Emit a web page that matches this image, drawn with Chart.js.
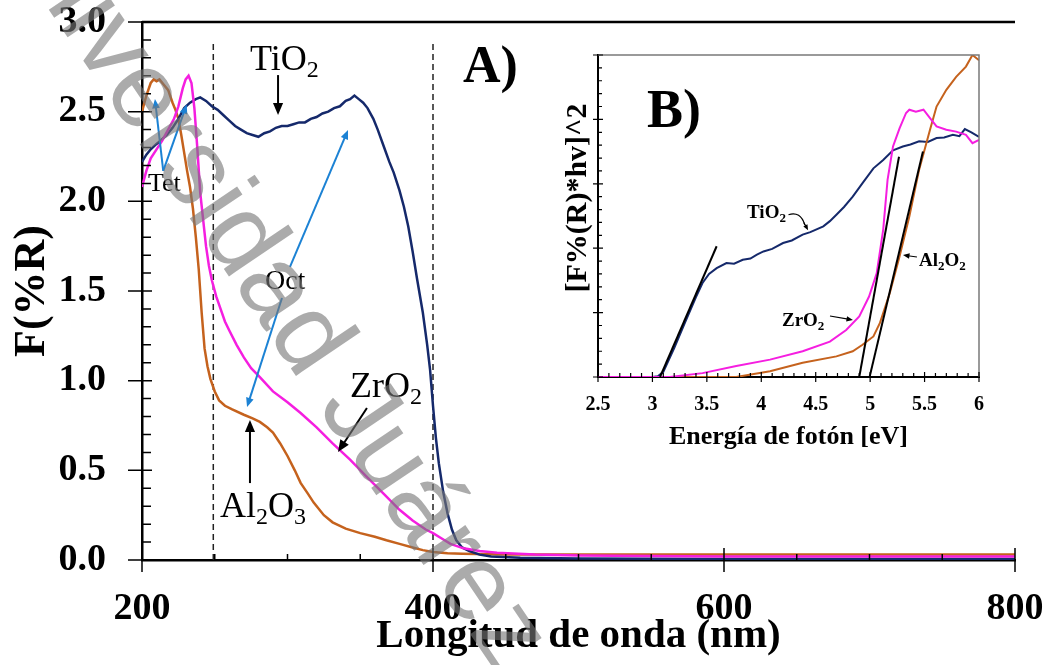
<!DOCTYPE html>
<html>
<head>
<meta charset="utf-8">
<script src="https://cdn.jsdelivr.net/npm/chart.js@4.4.0/dist/chart.umd.min.js"></script>
<style>
  html, body { margin: 0; padding: 0; background: #fff; }
  #wrap { position: relative; width: 1047px; height: 665px; overflow: hidden; }
  #main { position: absolute; left: 0; top: 0; }
  #inset { position: absolute; left: 540px; top: 30px; }
</style>
</head>
<body>
<div id="wrap">
  <canvas id="main" width="1047" height="665"></canvas>
  <canvas id="inset" width="470" height="430"></canvas>
</div>
<script>
// ---- panel A: F(%R) vs wavelength (nm) ----
const tio2Nm = [200, 203, 206, 210, 213, 217, 221, 225, 229, 233, 237, 240, 244, 248, 252, 256, 260, 264, 268, 272, 276, 280, 284, 288, 292, 296, 300, 304, 308, 312, 316, 320, 324, 328, 332, 336, 340, 343, 346, 349, 352, 355, 359, 362, 366, 370, 373, 377, 380, 383, 386, 389, 393, 396, 398, 400, 402, 404, 407, 410, 413, 416, 420, 425, 432, 440, 460, 500, 600, 800];
const tio2F = [2.22, 2.26, 2.29, 2.32, 2.34, 2.37, 2.41, 2.46, 2.52, 2.55, 2.57, 2.58, 2.56, 2.53, 2.51, 2.48, 2.45, 2.42, 2.40, 2.38, 2.37, 2.36, 2.38, 2.39, 2.41, 2.42, 2.42, 2.43, 2.44, 2.44, 2.46, 2.47, 2.49, 2.50, 2.52, 2.53, 2.56, 2.57, 2.59, 2.57, 2.55, 2.52, 2.46, 2.40, 2.31, 2.22, 2.16, 2.06, 1.97, 1.86, 1.72, 1.57, 1.38, 1.20, 1.06, 0.86, 0.68, 0.54, 0.38, 0.26, 0.17, 0.11, 0.07, 0.05, 0.03, 0.02, 0.012, 0.008, 0.006, 0.006];

const zro2Nm = [200, 203, 206, 210, 214, 218, 222, 225, 228, 230, 232, 234, 236, 238, 240, 242, 244, 246, 248, 251, 254, 257, 260, 265, 270, 275, 281, 290, 300, 309, 320, 331, 343, 355, 366, 377, 386, 395, 400, 406, 412, 421, 432, 444, 470, 500, 600, 800];
const zro2F = [2.08, 2.17, 2.24, 2.29, 2.34, 2.40, 2.46, 2.53, 2.63, 2.68, 2.70, 2.66, 2.52, 2.30, 2.05, 1.90, 1.75, 1.64, 1.56, 1.47, 1.40, 1.33, 1.28, 1.20, 1.13, 1.07, 1.02, 0.94, 0.88, 0.82, 0.74, 0.65, 0.56, 0.46, 0.37, 0.28, 0.22, 0.17, 0.15, 0.12, 0.09, 0.065, 0.05, 0.04, 0.03, 0.025, 0.02, 0.02];

const al2o3Nm = [200, 203, 206, 208, 210, 212, 215, 218, 221, 223, 225, 227, 229, 231, 233, 235, 237, 239, 241, 243, 245, 247, 250, 253, 257, 262, 270, 276, 281, 286, 290, 295, 300, 305, 309, 314, 318, 325, 331, 340, 350, 360, 368, 377, 386, 393, 400, 410, 420, 450, 600, 800];
const al2o3F = [2.50, 2.59, 2.66, 2.68, 2.67, 2.68, 2.65, 2.62, 2.55, 2.51, 2.46, 2.37, 2.27, 2.17, 2.08, 1.96, 1.80, 1.62, 1.38, 1.18, 1.08, 1.01, 0.94, 0.89, 0.86, 0.84, 0.81, 0.79, 0.77, 0.74, 0.71, 0.65, 0.58, 0.50, 0.43, 0.37, 0.32, 0.25, 0.21, 0.175, 0.15, 0.13, 0.11, 0.09, 0.07, 0.055, 0.045, 0.038, 0.035, 0.03, 0.03, 0.03];

const dashNm = [249, 400];          // dashed guides
const dashTop = 2.9;
const yTicksA = [0, 0.5, 1.0, 1.5, 2.0, 2.5, 3.0];
const xTicksA = [200, 400, 600, 800];

// ---- panel B: Tauc plot vs photon energy (eV) ----
const tio2Ev = [2.5, 3.0, 3.05, 3.1, 3.2, 3.3, 3.4, 3.46, 3.52, 3.59, 3.68, 3.75, 3.83, 3.9, 3.96, 4.02, 4.1, 4.2, 4.28, 4.38, 4.45, 4.57, 4.63, 4.69, 4.76, 4.84, 4.93, 5.03, 5.12, 5.21, 5.3, 5.37, 5.45, 5.53, 5.61, 5.68, 5.76, 5.82, 5.87, 5.93, 6.0];
const tio2Tauc = [0, 0, 0.01, 0.08, 0.45, 0.85, 1.24, 1.46, 1.60, 1.69, 1.77, 1.76, 1.82, 1.84, 1.90, 1.95, 1.99, 2.08, 2.12, 2.21, 2.25, 2.34, 2.42, 2.52, 2.64, 2.80, 3.01, 3.24, 3.37, 3.52, 3.58, 3.61, 3.66, 3.65, 3.71, 3.72, 3.76, 3.74, 3.85, 3.80, 3.73];

const zro2Ev = [2.5, 3.16, 3.46, 3.77, 4.08, 4.38, 4.63, 4.78, 4.90, 4.99, 5.06, 5.12, 5.16, 5.21, 5.27, 5.33, 5.36, 5.42, 5.49, 5.55, 5.61, 5.70, 5.79, 5.88, 5.94, 6.0];
const zro2Tauc = [0, 0, 0.06, 0.17, 0.27, 0.40, 0.55, 0.73, 0.94, 1.25, 1.61, 2.29, 3.06, 3.58, 3.86, 4.10, 4.15, 4.12, 4.15, 4.02, 3.89, 3.84, 3.81, 3.76, 3.63, 3.68];

const al2o3Ev = [2.5, 3.77, 4.08, 4.38, 4.69, 4.84, 4.93, 5.03, 5.09, 5.18, 5.27, 5.36, 5.45, 5.55, 5.61, 5.70, 5.79, 5.88, 5.94, 6.0];
const al2o3Tauc = [0, 0, 0.09, 0.22, 0.32, 0.40, 0.50, 0.63, 0.84, 1.30, 1.87, 2.49, 3.22, 3.84, 4.20, 4.46, 4.66, 4.82, 5.0, 4.92];

// tangent (band-gap) lines: [x0, x1], [y0, y1]
const tanTiO2Ev = [3.07, 3.59], tanTiO2Y = [0, 2.03];
const tanZrO2Ev = [4.90, 5.265], tanZrO2Y = [0, 3.42];
const tanAl2O3Ev = [4.995, 5.485], tanAl2O3Y = [0, 3.50];

const NAVY = '#15296b', MAGENTA = '#f51ee0', ORANGE = '#c5621d', BLUE = '#1c82d4';
const SERIF = '"Liberation Serif", "Times New Roman", serif';

const pts = (xs, ys) => xs.map((x, i) => ({ x: x, y: ys[i] }));

// keep label overhang from moving the plot area
const noPad = s => { s.paddingTop = 0; s.paddingBottom = 0; s.paddingLeft = 0; s.paddingRight = 0; };

function arrow(ctx, x1, y1, x2, y2, color, lw, head) {
  const a = Math.atan2(y2 - y1, x2 - x1);
  ctx.save();
  ctx.strokeStyle = color;
  ctx.fillStyle = color;
  ctx.lineWidth = lw;
  ctx.beginPath();
  ctx.moveTo(x1, y1);
  ctx.lineTo(x2 - Math.cos(a) * head * 0.7, y2 - Math.sin(a) * head * 0.7);
  ctx.stroke();
  ctx.beginPath();
  ctx.moveTo(x2, y2);
  ctx.lineTo(x2 - head * Math.cos(a - 0.4), y2 - head * Math.sin(a - 0.4));
  ctx.lineTo(x2 - head * Math.cos(a + 0.4), y2 - head * Math.sin(a + 0.4));
  ctx.closePath();
  ctx.fill();
  ctx.restore();
}

// text with subscripts: parts = [[text, isSub], ...]
function chem(ctx, x, y, parts, size, bold) {
  let cx = x;
  ctx.save();
  ctx.fillStyle = '#000';
  ctx.textBaseline = 'alphabetic';
  ctx.textAlign = 'left';
  for (const [t, sub] of parts) {
    const s = sub ? Math.round(size * 0.68) : size;
    ctx.font = (bold ? 'bold ' : '') + s + 'px ' + SERIF;
    ctx.fillText(t, cx, sub ? y + size * 0.2 : y);
    cx += ctx.measureText(t).width;
  }
  ctx.restore();
}

function drawTicks(chart, c) {
  const { ctx, chartArea: a, scales: { x, y } } = chart;
  const isMajor = (v, step) => Math.abs(v / step - Math.round(v / step)) < 1e-6;
  ctx.save();
  ctx.strokeStyle = '#000';
  ctx.lineWidth = c.lw;
  ctx.beginPath();
  const nx = Math.round((x.max - x.min) / c.xMinor);
  for (let i = 0; i <= nx; i++) {
    const v = x.min + i * c.xMinor;
    const px = x.getPixelForValue(v);
    const m = isMajor(v, c.xMajor);
    ctx.moveTo(px, a.bottom + (m ? c.xOut : 0));
    ctx.lineTo(px, a.bottom - (m ? c.xInMajor : c.xIn));
  }
  const ny = Math.round((y.max - y.min) / c.yMinor);
  for (let i = 0; i <= ny; i++) {
    const v = y.min + i * c.yMinor;
    const py = y.getPixelForValue(v);
    const m = isMajor(v, c.yMajor);
    ctx.moveTo(a.left - (m ? c.yOut : 0), py);
    ctx.lineTo(a.left + (m ? c.yInMajor : c.yIn), py);
  }
  ctx.stroke();
  ctx.restore();
}

// ---------------- main chart (A) ----------------
const mainDecor = {
  id: 'mainDecor',
  afterDatasetsDraw(chart) {
    const { ctx, chartArea: a, scales: { x, y } } = chart;
    const X = v => x.getPixelForValue(v), Y = v => y.getPixelForValue(v);
    // top frame
    ctx.save();
    ctx.strokeStyle = '#000';
    ctx.lineWidth = 2.5;
    ctx.beginPath();
    ctx.moveTo(a.left, a.top);
    ctx.lineTo(a.right, a.top);
    ctx.stroke();
    ctx.restore();
    drawTicks(chart, { lw: 1.5, xMinor: 50, xMajor: 200, xOut: 12, xIn: 6, xInMajor: 12,
                       yMinor: 0.1, yMajor: 0.5, yOut: 14, yIn: 9, yInMajor: 10 });

    // blue arrows: Tet / Oct
    arrow(ctx, X(214.6), Y(2.17), X(208.9), Y(2.57), BLUE, 2, 10);
    arrow(ctx, X(214.6), Y(2.17), X(230.7), Y(2.54), BLUE, 2, 10);
    arrow(ctx, X(301.7), Y(1.634), X(341.6), Y(2.398), BLUE, 2, 10);
    arrow(ctx, X(296.2), Y(1.461), X(272.2), Y(0.853), BLUE, 2, 10);
    chem(ctx, X(204.1), Y(2.058), [['Tet', false]], 26, false);
    chem(ctx, X(284.5), Y(1.512), [['Oct', false]], 28, false);

    // black arrows + formula labels
    arrow(ctx, X(293.5), Y(2.704), X(293.5), Y(2.481), '#000', 2, 13);
    chem(ctx, X(274.2), Y(2.732), [['TiO', false], ['2', true]], 36, false);
    arrow(ctx, X(354.6), Y(0.848), X(334.7), Y(0.602), '#000', 2, 13);
    chem(ctx, X(343), Y(0.909), [['ZrO', false], ['2', true]], 36, false);
    arrow(ctx, X(274.2), Y(0.429), X(274.2), Y(0.781), '#000', 2, 13);
    chem(ctx, X(253.6), Y(0.240), [['Al', false], ['2', true], ['O', false], ['3', true]], 36, false);

    chem(ctx, X(420.6), Y(2.665), [['A)', false]], 52, true);
  },
  afterDraw(chart) {
    // repository watermark
    const ctx = chart.ctx;
    ctx.save();
    ctx.translate(-19, -91);
    ctx.rotate(56 * Math.PI / 180);
    ctx.font = '108px "Liberation Sans", Arial, sans-serif';
    ctx.fillStyle = 'rgba(120,120,120,0.62)';
    ctx.textBaseline = 'alphabetic';
    ctx.fillText('Universidad Juárez Autónoma de Tabasco', 0, 0);
    ctx.restore();
  }
};

new Chart(document.getElementById('main'), {
  type: 'line',
  data: {
    datasets: [
      { data: pts(zro2Nm, zro2F), borderColor: MAGENTA, borderWidth: 2.5, order: 1 },
      { data: pts(tio2Nm, tio2F), borderColor: NAVY, borderWidth: 2.5, order: 2 },
      { data: pts(al2o3Nm, al2o3F), borderColor: ORANGE, borderWidth: 2.5, order: 3 },
      { data: pts([dashNm[0], dashNm[0]], [0, dashTop]), borderColor: '#222', borderWidth: 1.5, borderDash: [6, 4], order: 4 },
      { data: pts([dashNm[1], dashNm[1]], [0, dashTop]), borderColor: '#222', borderWidth: 1.5, borderDash: [6, 4], order: 4 }
    ]
  },
  options: {
    responsive: false,
    animation: false,
    parsing: false,
    layout: { padding: { top: 22, right: 32, left: 0, bottom: 0 } },
    elements: { point: { radius: 0 }, line: { tension: 0, fill: false } },
    plugins: { legend: { display: false }, tooltip: { enabled: false } },
    scales: {
      x: {
        type: 'linear', min: 200, max: 800,
        afterBuildTicks: s => { s.ticks = xTicksA.map(v => ({ value: v })); },
        grid: { display: false, drawTicks: false },
        border: { display: true, color: '#000', width: 2.5 },
        ticks: { color: '#000', padding: 26, maxRotation: 0, font: { family: SERIF, size: 38, weight: 'bold' } },
        title: { display: true, text: 'Longitud de onda (nm)', color: '#000',
                 font: { family: SERIF, size: 41, weight: 'bold' }, padding: { top: 0, bottom: 4 } },
        afterFit: s => { s.height = 105; noPad(s); }
      },
      y: {
        type: 'linear', min: 0, max: 3,
        afterBuildTicks: s => { s.ticks = yTicksA.map(v => ({ value: v })); },
        grid: { display: false, drawTicks: false },
        border: { display: true, color: '#000', width: 2.5 },
        ticks: { color: '#000', padding: 36, callback: v => Number(v).toFixed(1),
                 font: { family: SERIF, size: 38, weight: 'bold' } },
        title: { display: true, text: 'F(%R)', color: '#000',
                 font: { family: SERIF, size: 44, weight: 'bold' }, padding: { top: 6, bottom: 0 } },
        afterFit: s => { s.width = 142; noPad(s); }
      }
    }
  },
  plugins: [mainDecor]
});

// ---------------- inset chart (B) ----------------
const insetDecor = {
  id: 'insetDecor',
  beforeDraw(chart) {
    const ctx = chart.ctx;
    ctx.save();
    ctx.fillStyle = '#fff';
    ctx.fillRect(0, 0, chart.width, chart.height);
    ctx.restore();
  },
  afterDatasetsDraw(chart) {
    const { ctx, chartArea: a, scales: { x, y } } = chart;
    const X = v => x.getPixelForValue(v), Y = v => y.getPixelForValue(v);
    ctx.save();
    ctx.strokeStyle = '#7a7a7a';
    ctx.lineWidth = 1.5;
    ctx.beginPath();
    ctx.moveTo(a.left, a.top);
    ctx.lineTo(a.right, a.top);
    ctx.lineTo(a.right, a.bottom);
    ctx.stroke();
    ctx.restore();
    drawTicks(chart, { lw: 1.2, xMinor: 0.1, xMajor: 0.5, xOut: 5, xIn: 4, xInMajor: 5,
                       yMinor: 0.2, yMajor: 1, yOut: 5, yIn: 4, yInMajor: 5 });

    chem(ctx, X(2.95), Y(3.88), [['B)', false]], 54, true);
    chem(ctx, X(3.869), Y(2.469), [['TiO', false], ['2', true]], 19, true);
    chem(ctx, X(4.19), Y(0.792), [['ZrO', false], ['2', true]], 19, true);
    chem(ctx, X(5.449), Y(1.724), [['Al', false], ['2', true], ['O', false], ['2', true]], 19, true);
    arrow(ctx, X(4.631), Y(0.947), X(4.842), Y(0.885), '#000', 1.2, 7);
    arrow(ctx, X(5.43), Y(1.863), X(5.302), Y(1.894), '#000', 1.2, 7);
    // curly pointer from the TiO2 label
    ctx.save();
    ctx.strokeStyle = '#000';
    ctx.lineWidth = 1.2;
    ctx.beginPath();
    ctx.moveTo(X(4.25), Y(2.52));
    ctx.quadraticCurveTo(X(4.36), Y(2.58), X(4.40), Y(2.36));
    ctx.stroke();
    ctx.restore();
    arrow(ctx, X(4.39), Y(2.40), X(4.43), Y(2.28), '#000', 1.2, 6);

    // y title
    ctx.save();
    ctx.translate(38, 168);
    ctx.rotate(-Math.PI / 2);
    ctx.font = 'bold 30px ' + SERIF;
    ctx.fillStyle = '#000';
    ctx.textAlign = 'center';
    ctx.textBaseline = 'middle';
    ctx.fillText('[F%(R)*hv]^2', 0, 0);
    ctx.restore();
  }
};

new Chart(document.getElementById('inset'), {
  type: 'line',
  data: {
    datasets: [
      { data: pts(tio2Ev, tio2Tauc), borderColor: NAVY, borderWidth: 2, order: 3 },
      { data: pts(al2o3Ev, al2o3Tauc), borderColor: ORANGE, borderWidth: 2, order: 2 },
      { data: pts(zro2Ev, zro2Tauc), borderColor: MAGENTA, borderWidth: 2, order: 1 },
      { data: pts(tanTiO2Ev, tanTiO2Y), borderColor: '#000', borderWidth: 2, order: 0 },
      { data: pts(tanZrO2Ev, tanZrO2Y), borderColor: '#000', borderWidth: 2, order: 0 },
      { data: pts(tanAl2O3Ev, tanAl2O3Y), borderColor: '#000', borderWidth: 2, order: 0 }
    ]
  },
  options: {
    responsive: false,
    animation: false,
    parsing: false,
    layout: { padding: { top: 25, right: 31, left: 0, bottom: 0 } },
    elements: { point: { radius: 0 }, line: { tension: 0, fill: false } },
    plugins: { legend: { display: false }, tooltip: { enabled: false } },
    scales: {
      x: {
        type: 'linear', min: 2.5, max: 6,
        ticks: { stepSize: 0.5, color: '#000', padding: 16, maxRotation: 0,
                 callback: v => String(+Number(v).toFixed(1)),
                 font: { family: SERIF, size: 20, weight: 'bold' } },
        grid: { display: false, drawTicks: false },
        border: { display: true, color: '#000', width: 2 },
        title: { display: true, text: 'Energía de fotón [eV]', color: '#000',
                 font: { family: SERIF, size: 26, weight: 'bold' }, padding: { top: 0, bottom: 7 } },
        afterFit: s => { s.height = 83; noPad(s); }
      },
      y: {
        type: 'linear', min: 0, max: 5,
        ticks: { display: false },
        grid: { display: false, drawTicks: false },
        border: { display: true, color: '#000', width: 2 },
        afterFit: s => { s.width = 58; noPad(s); }
      }
    }
  },
  plugins: [insetDecor]
});
</script>
</body>
</html>
